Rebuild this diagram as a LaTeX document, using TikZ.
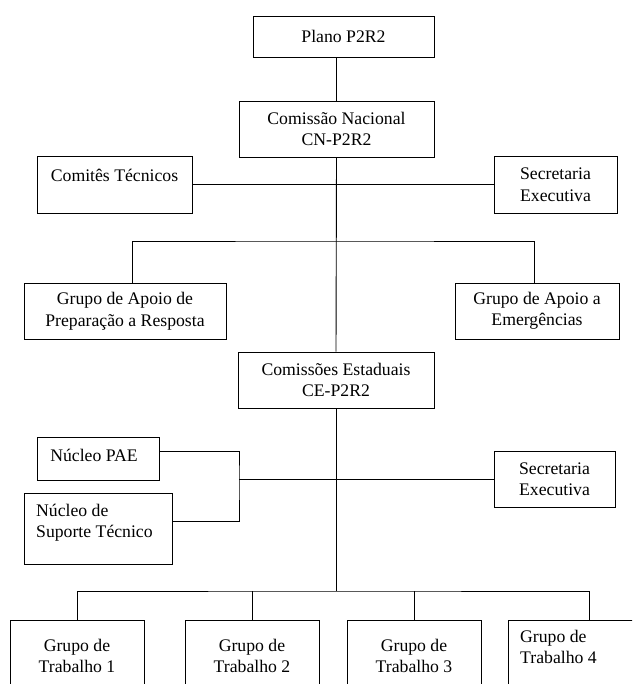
\documentclass[tikz,border=0pt]{standalone}
\usepackage{fontspec}
\setmainfont{Liberation Serif}
\tikzset{orgbox/.style={draw, line width=0.9pt, align=center, inner sep=0pt, font=\fontsize{17.7}{21.5}\selectfont}}
\tikzset{orgtext/.style={align=left, inner sep=0pt, font=\fontsize{17.7}{21.5}\selectfont}}
\tikzset{link/.style={line width=0.9pt}}

\begin{document}
\begin{tikzpicture}[x=1pt, y=-1pt]
            \useasboundingbox (0,0) rectangle (632,684);
            \clip (0,0) rectangle (632,684);
            % national level
            \node[orgbox, minimum width=181, minimum height=41] (plano) at (343.5,36.5) {Plano P2R2};
            \node[orgbox, minimum width=195, minimum height=56] (cn) at (336.5,129) {Comiss\~ao Nacional\\CN-P2R2};
            \node[orgbox, minimum width=155, minimum height=57] (ct) at (114.5,184.5) {};
            \node[orgtext] (ctt) at (114.5,175) {Comit\^es T\'ecnicos};
            \node[orgbox, minimum width=123, minimum height=57] (sec1) at (555.5,184.5) {Secretaria\\Executiva};
            \node[orgbox, minimum width=202, minimum height=56] (gap) at (125,311) {Grupo de Apoio de\\Prepara\c{c}\~ao a Resposta};
            \node[orgbox, minimum width=164, minimum height=56] (gae) at (537,311) {Grupo de Apoio a\\Emerg\^encias};
            % state level
            \node[orgbox, minimum width=196, minimum height=56] (ce) at (336,380) {Comiss\~oes Estaduais\\CE-P2R2};
            \node[orgbox, minimum width=122, minimum height=43] (pae) at (98,458.5) {};
            \node[orgtext] (paet) at (94,455) {N\'ucleo PAE};
            \node[orgbox, minimum width=148, minimum height=71] (nst) at (98,528.5) {};
            \node[orgtext, anchor=west] (nstt) at (36,522.5) {N\'ucleo de\\Suporte T\'ecnico};
            \node[orgbox, minimum width=121, minimum height=56] (sec2) at (554.5,479) {Secretaria\\Executiva};
            % working groups
            \foreach \name/\cx/\n in {gt1/77/1, gt2/252/2, gt3/414/3} {
                \node[orgbox, minimum width=134, minimum height=100] (\name) at (\cx,670) {};
                \node[orgtext, align=center] (\name t) at (\cx,656) {Grupo de\\Trabalho \n};
            }
            \node[orgbox, minimum width=162, minimum height=100] (gt4) at (589,670) {};
            \node[orgtext, anchor=west] (gt4t) at (520,647) {Grupo de\\Trabalho 4};
            % connectors
            \coordinate (hub1) at (336,241);
            \coordinate (hub2) at (239,479);
            \coordinate (hub3) at (336,591);
            \draw[link] (cn.north) -- (cn.north |- plano.south);
            \draw[link] (cn.south) -- (ce.north);
            \draw[link] (ct.east) -- (sec1.west);
            \draw[link] ([xshift=7pt]gap.north) |- (hub1) -| ([xshift=-3pt]gae.north);
            \draw[link] ([yshift=7pt]pae.east) -| (hub2) |- ([yshift=7pt]nst.east);
            \draw[link] (hub2) -- (sec2.west);
            \draw[link] (ce.south) -- (hub3);
            \draw[link] (gt1.north) |- (hub3) -| (gt4.north);
            \draw[link] (gt2.north) -- (gt2.north |- hub3);
            \draw[link] (gt3.north) -- (gt3.north |- hub3);
        \end{tikzpicture}
\end{document}
